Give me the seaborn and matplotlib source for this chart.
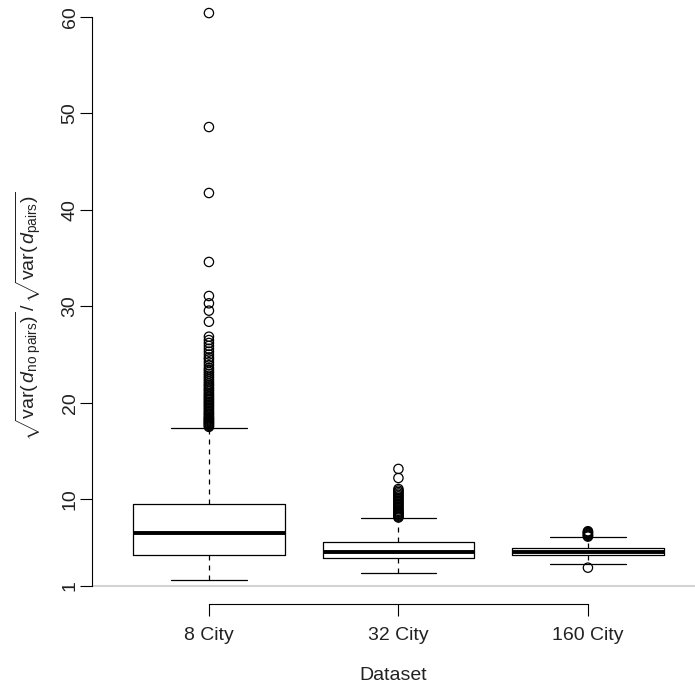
import numpy as np
import pandas as pd
import matplotlib
matplotlib.use("Agg")
import matplotlib.pyplot as plt
import seaborn as sns

# ---- data ----
categories = ["8 City", "32 City", "160 City"]
whisker_low = [1.62, 2.32, 3.28]
q1 = [4.21, 3.87, 4.18]
median = [6.49, 4.56, 4.56]
q3 = [9.50, 5.53, 4.91]
whisker_high = [17.38, 8.02, 6.05]

outliers_8 = [60.41, 48.59, 41.75, 34.6, 31.07, 30.31, 29.55, 28.40,
              26.85, 26.5, 26.2, 25.9, 25.6, 25.3, 25.0, 24.7, 24.5, 24.2,
              23.9, 23.6, 23.4, 23.2, 23.0, 22.8, 22.6, 22.4, 22.2, 22.0,
              21.85, 21.7, 21.5, 21.35, 21.2, 21.0, 20.85, 20.7, 20.55, 20.4,
              20.25, 20.1, 19.95, 19.8, 19.65, 19.5, 19.35, 19.2, 19.05, 18.9,
              18.8, 18.65, 18.5, 18.4, 18.3, 18.2, 18.1, 18.0, 17.9, 17.8,
              17.7, 17.6, 17.5]
outliers_32 = [13.14, 12.2, 11.06, 10.9, 10.75, 10.6, 10.45, 10.3, 10.15,
               10.0, 9.85, 9.7, 9.55, 9.4, 9.25, 9.1, 8.95, 8.8, 8.7, 8.6,
               8.5, 8.4, 8.3, 8.2, 8.1]
outliers_160 = [6.68, 6.6, 6.5, 6.4, 6.3, 6.2, 6.12, 2.90]

y_ticks = [1, 10, 20, 30, 40, 50, 60]

# ---- tables for seaborn ----
box_rows = []
for i, c in enumerate(categories):
    for v in (whisker_low[i], q1[i], median[i], q3[i], whisker_high[i]):
        box_rows.append({"dataset": c, "value": v})
box_df = pd.DataFrame(box_rows)

out_rows = ([{"dataset": categories[0], "value": v} for v in outliers_8]
            + [{"dataset": categories[1], "value": v} for v in outliers_32]
            + [{"dataset": categories[2], "value": v} for v in outliers_160])
out_df = pd.DataFrame(out_rows)

# ---- style ----
sns.set_theme(style="white")
plt.rcParams["font.family"] = ["Liberation Sans", "DejaVu Sans"]
plt.rcParams["mathtext.fontset"] = "custom"
plt.rcParams["mathtext.rm"] = "Liberation Sans"
plt.rcParams["mathtext.it"] = "Liberation Sans:italic"
plt.rcParams["mathtext.bf"] = "Liberation Sans:bold"

W, H = 695, 684
fig = plt.figure(figsize=(W / 100, H / 100), dpi=100)
ax = fig.add_axes([92 / W, (H - 604) / H, (W - 92) / W, 604 / H])

ax.axhline(1, color="#d3d3d3", lw=1.5, zorder=0)

sns.boxplot(data=box_df, x="dataset", y="value", order=categories,
            whis=(0, 100), width=0.8, color="black", fill=False,
            linewidth=0.9, showfliers=False,
            medianprops=dict(linewidth=2.8, color="black"),
            whiskerprops=dict(linestyle=(0, (4, 4)), color="black"),
            capprops=dict(color="black"),
            boxprops=dict(color="black"),
            ax=ax)

n_before = len(ax.collections)
sns.stripplot(data=out_df, x="dataset", y="value", order=categories,
              jitter=False, color="black", size=6.7, marker="o",
              edgecolor="black", linewidth=0.9, ax=ax)
for coll in ax.collections[n_before:]:
    coll.set_facecolor("none")
    coll.set_edgecolor("black")

ax.set_xlim(-0.617, 2.565)
ax.set_ylim(-0.867, 61.763)

ax.set_yticks(y_ticks)
ax.set_yticklabels([str(t) for t in y_ticks], rotation=90, va="center")
ax.tick_params(axis="both", which="major", direction="out", length=8.6,
               width=0.8, color="black", labelsize=14, labelcolor="#222222",
               bottom=True, left=True)
ax.tick_params(axis="y", pad=1)
ax.tick_params(axis="x", pad=8)

for s in ("top", "right"):
    ax.spines[s].set_visible(False)
ax.spines["left"].set_bounds(1, 60)
ax.spines["bottom"].set_bounds(0, 2)
for s in ("left", "bottom"):
    ax.spines[s].set_color("black")
    ax.spines[s].set_linewidth(0.8)

ax.set_xlabel("Dataset", fontsize=14, color="#222222", labelpad=16.5)
ax.set_ylabel("")
fig.text(28 / W, 1 - 316 / H,
         r"$\sqrt{\mathrm{var}(\,d_{\mathrm{no\ pairs}})}\,/\,\sqrt{\mathrm{var}(\,d_{\mathrm{pairs}})}$",
         rotation=90, ha="center", va="center", fontsize=14, color="#222222")

fig.savefig("out.png", dpi=100, facecolor="white")
